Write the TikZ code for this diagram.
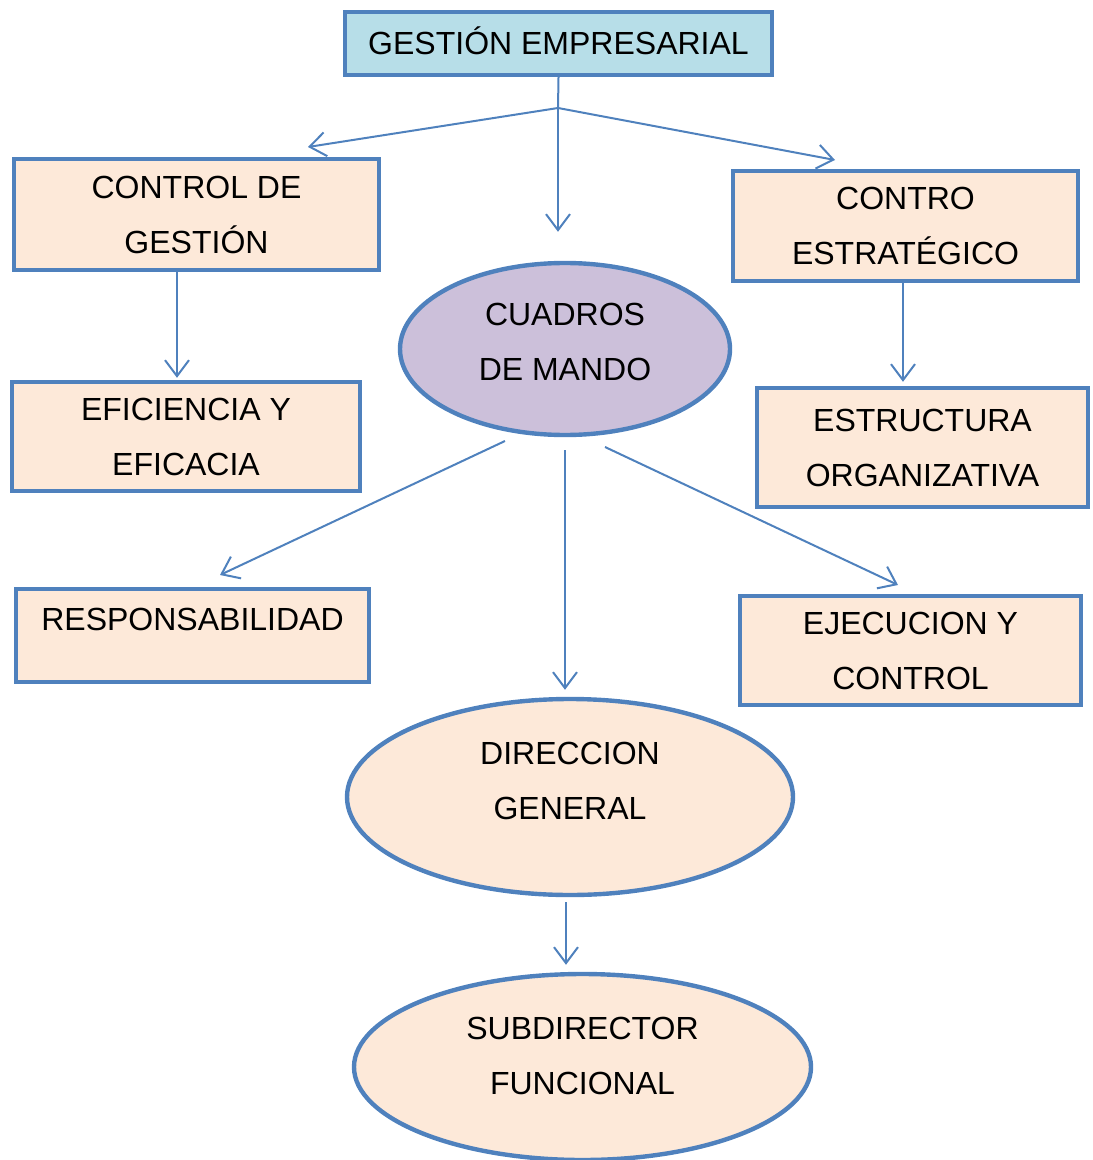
\documentclass[tikz,border=0pt]{standalone}
\usepackage{fontspec}
\setmainfont{Liberation Sans}
\usepackage{tikz}
\usetikzlibrary{shapes.geometric,arrows.meta}
\definecolor{borde}{HTML}{4F81BD}
\definecolor{celeste}{HTML}{B7DEE8}
\definecolor{durazno}{HTML}{FDE9D9}
\definecolor{lila}{HTML}{CCC0DA}
\tikzset{
    rotulo/.style={align=center, font=\fontsize{16}{27.5}\selectfont},
    caja/.style={rotulo, draw=borde, line width=2.2pt, fill=durazno, inner sep=0pt},
    elipse/.style={caja, ellipse},
    linea/.style={draw=borde, line width=1pt},
    flecha/.style={linea, -{Straight Barb[length=8pt,width=12pt]}},
}

\begin{document}
\begin{tikzpicture}[x=0.5pt,y=-0.5pt]
    \useasboundingbox (0,0) rectangle (1092,1160);
    \node[caja, fill=celeste, minimum width=213.5pt, minimum height=31.5pt, text height=11.5pt] (gestion) at (558.5,43.5) {GESTIÓN EMPRESARIAL};
    \node[caja, minimum width=182.5pt, minimum height=55.5pt] (control) at (196.5,214.5) {CONTROL DE\\GESTIÓN};
    \node[caja, minimum width=172.5pt, minimum height=55pt] (estrategico) at (905.5,226) {CONTRO\\ESTRATÉGICO};
    \node[elipse, fill=lila, minimum width=165pt, minimum height=86pt,
        label={[rotulo, yshift=3.75pt]center:CUADROS\\DE MANDO}] (cuadros) at (565,349) {};
    \node[caja, minimum width=174pt, minimum height=54.5pt] (eficiencia) at (186,436.5) {EFICIENCIA Y\\EFICACIA};
    \node[caja, minimum width=165.5pt, minimum height=59.5pt] (estructura) at (922.5,447.5) {ESTRUCTURA\\ORGANIZATIVA};
    \node[caja, minimum width=176.5pt, minimum height=46.5pt,
        label={[rotulo, yshift=8.25pt]center:RESPONSABILIDAD}] (responsabilidad) at (192.5,635.5) {};
    \node[caja, minimum width=170.5pt, minimum height=54.5pt] (ejecucion) at (910.5,650.5) {EJECUCION Y\\CONTROL};
    \node[elipse, minimum width=223pt, minimum height=98pt,
        label={[rotulo, yshift=8.25pt]center:DIRECCION\\GENERAL}] (direccion) at (570,797) {};
    \node[elipse, minimum width=228.5pt, minimum height=93pt,
        label={[rotulo, yshift=5.75pt]center:SUBDIRECTOR\\FUNCIONAL}] (subdirector) at (582.5,1067) {};

    \coordinate (junta) at (558,108);
    \coordinate (izq) at (308,147);
    \coordinate (der) at (835,160);
    \coordinate (c1) at (505,441);
    \coordinate (c2) at (220,575);
    \coordinate (c3) at (605,447);
    \coordinate (c4) at (898,585);

    \draw[linea] (gestion.south) -- (junta);
    \draw[flecha] (junta) -- (izq);
    \draw[flecha] (junta) -- (der);
    \draw[flecha, shorten >=14.5pt] (junta) -- (junta |- cuadros.north);
    \draw[flecha, shorten >=1pt] ([xshift=-9.75pt]control.south) -- ([xshift=-9.75pt]control.south |- eficiencia.north);
    \draw[flecha, shorten >=2pt] ([xshift=-1.25pt]estrategico.south) -- ([xshift=-1.25pt]estrategico.south |- estructura.north);
    \draw[flecha] (c1) -- (c2);
    \draw[flecha] (c3) -- (c4);
    \draw[flecha, shorten <=6.5pt, shorten >=3.5pt] (cuadros.south) -- (cuadros.south |- direccion.north);
    \draw[flecha, shorten <=2.5pt, shorten >=3.5pt] ([xshift=-2pt]direccion.south) -- ([xshift=-2pt]direccion.south |- subdirector.north);
\end{tikzpicture}
\end{document}
